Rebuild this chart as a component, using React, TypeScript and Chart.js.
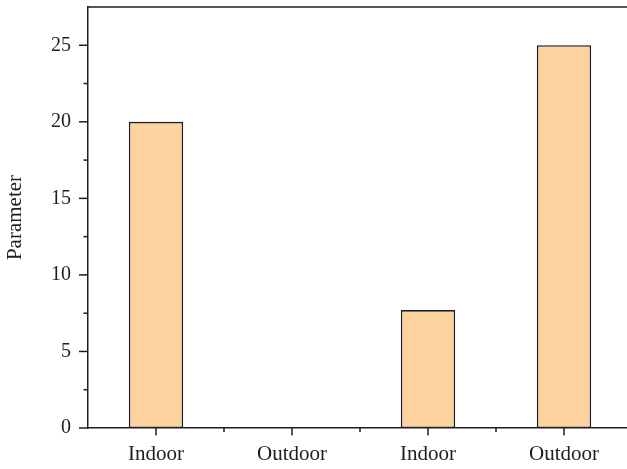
import React, { useEffect, useRef } from "react";
import { Chart, registerables } from "chart.js";

Chart.register(...registerables);

const categories = ["Indoor", "Outdoor", "Indoor", "Outdoor"];
const parameterValues = [20, 0, 7.7, 25];
const yTickValues = [0, 5, 10, 15, 20, 25];
const yMinorStep = 2.5;
const yMax = 27.5;
const yAxisTitle = "Parameter";

const FONT = "'Liberation Serif', 'Times New Roman', serif";
const INK = "#1e1e1e";

const axisTicksPlugin = {
  id: "axisTicks",
  afterDraw(chart: any) {
    const { ctx, chartArea, scales } = chart;
    const xs = scales.x;
    const ys = scales.y;
    const seg = (x1: number, y1: number, x2: number, y2: number) => {
      ctx.beginPath();
      ctx.moveTo(x1, y1);
      ctx.lineTo(x2, y2);
      ctx.stroke();
    };
    ctx.save();
    ctx.strokeStyle = INK;
    ctx.lineWidth = 1.5;
    // top frame line
    seg(chartArea.left, chartArea.top, chartArea.right, chartArea.top);
    // y ticks (major + minor)
    ys.ticks.forEach((t: any) => {
      const py = ys.getPixelForValue(t.value);
      seg(chartArea.left - 9, py, chartArea.left, py);
      const mv = t.value + yMinorStep;
      if (mv < ys.max) {
        const pm = ys.getPixelForValue(mv);
        seg(chartArea.left - 4.5, pm, chartArea.left, pm);
      }
    });
    // x ticks: major at centers, minor at category boundaries
    categories.forEach((_, i) => {
      const px = xs.getPixelForValue(i);
      seg(px, chartArea.bottom, px, chartArea.bottom + 7.5);
      if (i < categories.length - 1) {
        const pb = (xs.getPixelForValue(i) + xs.getPixelForValue(i + 1)) / 2;
        seg(pb, chartArea.bottom, pb, chartArea.bottom + 4);
      }
    });
    ctx.restore();
  },
};

export default function App() {
  const ref = useRef<HTMLCanvasElement | null>(null);

  useEffect(() => {
    document.body.style.margin = "0";
    if (!ref.current) return;
    const chart = new Chart(ref.current, {
      type: "bar",
      data: {
        labels: categories,
        datasets: [
          {
            label: yAxisTitle,
            data: parameterValues,
            backgroundColor: "#FDD39F",
            borderColor: INK,
            borderWidth: 1.6,
            borderSkipped: false,
            barPercentage: 0.4,
            categoryPercentage: 1,
          },
        ],
      },
      options: {
        responsive: false,
        animation: false,
        layout: { padding: { top: 7, right: 0, left: 0, bottom: 0 } },
        plugins: {
          legend: { display: false },
          tooltip: { enabled: false },
        },
        scales: {
          x: {
            grid: { display: false, drawTicks: false },
            border: { display: true, color: INK, width: 1.5 },
            ticks: {
              color: INK,
              font: { family: FONT, size: 21 },
              padding: 14,
              maxRotation: 0,
            },
            afterFit: (scale: any) => {
              scale.height = 41;
              scale.paddingLeft = 0;
              scale.paddingRight = 0;
            },
          },
          y: {
            min: 0,
            max: yMax,
            grid: { display: false, drawTicks: false },
            border: { display: true, color: INK, width: 1.5 },
            afterBuildTicks: (scale: any) => {
              scale.ticks = yTickValues.map((v) => ({ value: v }));
            },
            ticks: {
              color: INK,
              font: { family: FONT, size: 20 },
              padding: 17,
            },
            title: {
              display: true,
              text: yAxisTitle,
              color: INK,
              font: { family: FONT, size: 21 },
              padding: { top: 3, bottom: 0 },
            },
            afterFit: (scale: any) => {
              scale.width = 88;
              scale.paddingTop = 0;
              scale.paddingBottom = 0;
            },
          },
        },
      },
      plugins: [axisTicksPlugin],
    });
    return () => chart.destroy();
  }, []);

  return (
    <div
      style={{
        position: "absolute",
        left: 0,
        top: 0,
        width: 627,
        height: 469,
        overflow: "hidden",
        background: "#fff",
      }}
    >
      <canvas ref={ref} width={632} height={469} style={{ display: "block" }} />
    </div>
  );
}
